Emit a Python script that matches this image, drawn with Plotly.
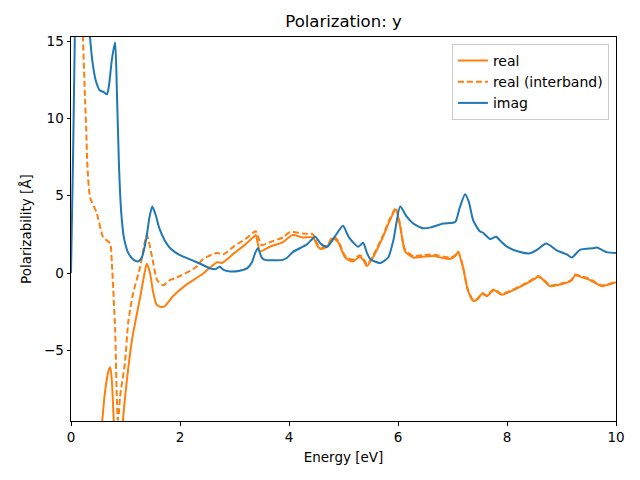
import plotly.graph_objects as go

# imag
imag_x = [0.0, 0.04, 0.07, 0.1, 0.2, 0.3, 0.35, 0.4, 0.45, 0.53, 0.6, 0.66, 0.7, 0.75, 0.81, 0.84, 0.88, 0.92, 0.97, 1.05, 1.15, 1.23, 1.3, 1.38, 1.44, 1.49, 1.55, 1.62, 1.72, 1.82, 2.0, 2.24, 2.4, 2.55, 2.65, 2.73, 2.8, 2.92, 3.1, 3.23, 3.32, 3.38, 3.43, 3.5, 3.56, 3.89, 3.97, 4.07, 4.2, 4.33, 4.48, 4.58, 4.7, 4.85, 4.99, 5.1, 5.27, 5.36, 5.43, 5.49, 5.67, 5.82, 5.92, 6.04, 6.15, 6.28, 6.45, 6.6, 6.83, 7.05, 7.13, 7.23, 7.3, 7.38, 7.5, 7.56, 7.69, 7.8, 7.9, 8.0, 8.24, 8.42, 8.55, 8.72, 8.92, 9.1, 9.19, 9.34, 9.58, 9.65, 9.83, 10.0]
imag_y = [0.0, 8.0, 15.3, 20.0, 25.0, 18.0, 15.2, 13.5, 12.5, 11.8, 11.7, 11.55, 12.2, 13.8, 14.9, 12.0, 7.0, 4.0, 2.3, 1.3, 0.85, 0.75, 1.0, 2.2, 3.6, 4.3, 3.8, 2.9, 2.1, 1.6, 1.15, 0.8, 0.55, 0.3, 0.25, 0.4, 0.2, 0.1, 0.15, 0.3, 0.7, 1.3, 1.6, 1.0, 0.85, 0.85, 1.0, 1.36, 1.6, 1.85, 2.35, 1.9, 1.7, 2.4, 3.05, 2.3, 1.7, 1.95, 1.3, 0.9, 0.65, 1.0, 2.2, 4.3, 3.7, 3.2, 2.9, 2.95, 3.2, 3.3, 4.2, 5.1, 4.6, 3.4, 2.7, 2.6, 2.2, 2.35, 2.0, 1.7, 1.36, 1.27, 1.5, 1.9, 1.45, 1.2, 1.0, 1.5, 1.6, 1.65, 1.35, 1.3]

# real
real_x = [0.5, 0.57, 0.62, 0.69, 0.72, 0.75, 0.79, 0.85, 0.9, 0.95, 1.02, 1.12, 1.2, 1.27, 1.35, 1.39, 1.45, 1.5, 1.57, 1.65, 1.72, 1.87, 2.1, 2.4, 2.68, 2.77, 3.0, 3.2, 3.34, 3.39, 3.47, 3.65, 3.89, 4.06, 4.26, 4.44, 4.53, 4.6, 4.7, 4.81, 4.9, 5.03, 5.17, 5.3, 5.37, 5.43, 5.54, 5.72, 5.85, 5.96, 6.04, 6.13, 6.28, 6.45, 6.64, 6.95, 7.05, 7.1, 7.19, 7.28, 7.38, 7.46, 7.54, 7.63, 7.76, 7.9, 8.24, 8.5, 8.57, 8.65, 8.79, 9.03, 9.18, 9.25, 9.35, 9.52, 9.74, 10.0]
real_y = [-12.0, -9.7, -7.8, -6.3, -6.1, -7.0, -10.0, -14.0, -13.0, -9.7, -7.1, -4.3, -2.8, -1.55, 0.0, 0.6, 0.0, -1.1, -2.05, -2.2, -2.15, -1.5, -0.8, -0.1, 0.7, 0.65, 1.3, 1.85, 2.3, 2.45, 1.4, 1.7, 2.0, 2.45, 2.3, 2.3, 1.7, 1.55, 1.7, 2.25, 2.0, 1.0, 0.75, 1.05, 0.8, 0.45, 1.0, 2.3, 3.4, 4.1, 3.0, 1.4, 1.0, 1.05, 1.1, 0.9, 1.1, 1.36, 0.4, -1.1, -1.8, -1.7, -1.35, -1.5, -1.1, -1.4, -0.9, -0.4, -0.25, -0.4, -0.85, -0.7, -0.5, -0.15, -0.25, -0.45, -0.85, -0.6]

# real (interband)
inter_x = [0.2, 0.22, 0.26, 0.28, 0.3, 0.35, 0.47, 0.59, 0.66, 0.72, 0.75, 0.81, 0.84, 0.86, 0.88, 0.9, 0.99, 1.05, 1.14, 1.27, 1.39, 1.49, 1.58, 1.69, 1.82, 1.94, 2.3, 2.42, 2.68, 2.79, 3.0, 3.2, 3.34, 3.39, 3.5, 3.65, 3.89, 4.02, 4.26, 4.44, 4.53, 4.6, 4.7, 4.81, 4.9, 5.03, 5.17, 5.3, 5.37, 5.43, 5.54, 5.72, 5.85, 5.96, 6.04, 6.13, 6.28, 6.45, 6.64, 6.95, 7.05, 7.1, 7.19, 7.28, 7.38, 7.46, 7.54, 7.63, 7.76, 7.9, 8.24, 8.5, 8.57, 8.65, 8.79, 9.03, 9.18, 9.25, 9.35, 9.52, 9.74, 10.0]
inter_y = [20.0, 15.3, 11.0, 9.2, 7.0, 4.9, 3.9, 2.3, 2.1, 1.9, 0.6, -3.7, -8.0, -9.5, -9.0, -8.0, -5.8, -3.2, -1.3, 0.4, 2.45, 1.0, -0.45, -0.8, -0.45, -0.3, 0.4, 0.9, 1.3, 1.2, 1.75, 2.2, 2.6, 2.7, 1.8, 2.0, 2.3, 2.65, 2.55, 2.5, 1.8, 1.65, 1.8, 2.35, 2.1, 1.1, 0.85, 1.15, 0.9, 0.55, 1.1, 2.4, 3.5, 4.2, 3.1, 1.5, 1.1, 1.15, 1.2, 1.0, 1.15, 1.4, 0.45, -1.05, -1.75, -1.65, -1.3, -1.45, -1.05, -1.35, -0.85, -0.35, -0.2, -0.35, -0.8, -0.65, -0.45, -0.1, -0.2, -0.4, -0.8, -0.55]

ORANGE = "#ff7f0e"
BLUE = "#1f77b4"

fig = go.Figure()
fig.add_trace(go.Scatter(x=real_x, y=real_y, mode="lines", name="real",
                         line=dict(color=ORANGE, width=2, shape="spline", smoothing=0.6)))
fig.add_trace(go.Scatter(x=inter_x, y=inter_y, mode="lines", name="real (interband)",
                         line=dict(color=ORANGE, width=2, dash="6px,3px", shape="spline", smoothing=0.6)))
fig.add_trace(go.Scatter(x=imag_x, y=imag_y, mode="lines", name="imag",
                         line=dict(color=BLUE, width=2, shape="spline", smoothing=0.6)))

axis_common = dict(showgrid=False, zeroline=False, showline=True, linecolor="black",
                   linewidth=1, mirror=True, ticks="outside", ticklen=3.5, tickcolor="black",
                   automargin=False, tickfont=dict(size=13.5, color="black"))

# page body has an 8px margin; margins compensate so the plot area sits at
# x 71..616, y 37..421 in the window
fig.update_layout(
    width=640, height=480,
    margin=dict(l=63, r=32, t=29, b=67),
    paper_bgcolor="white", plot_bgcolor="white",
    font=dict(family="DejaVu Sans", color="black", size=13.5),
    title=dict(text="Polarization: y", x=(343.5 - 8) / 640, xanchor="center",
               y=1 - 13 / 480, yanchor="middle", font=dict(size=16.5)),
    xaxis=dict(range=[0, 10], tickvals=[0, 2, 4, 6, 8, 10],
               title=dict(text="Energy [eV]", font=dict(size=13.5), standoff=8), **axis_common),
    yaxis=dict(range=[-9.57, 15.26], tickvals=[-5, 0, 5, 10, 15],
               title=dict(text="Polarizability [Å]", font=dict(size=13.5), standoff=9), **axis_common),
    legend=dict(x=0.987, y=0.982, xanchor="right", yanchor="top",
                bordercolor="#cccccc", borderwidth=1, bgcolor="rgba(255,255,255,0.8)",
                font=dict(size=14), tracegroupgap=0),
    showlegend=True,
)

fig.write_html("out.html")
